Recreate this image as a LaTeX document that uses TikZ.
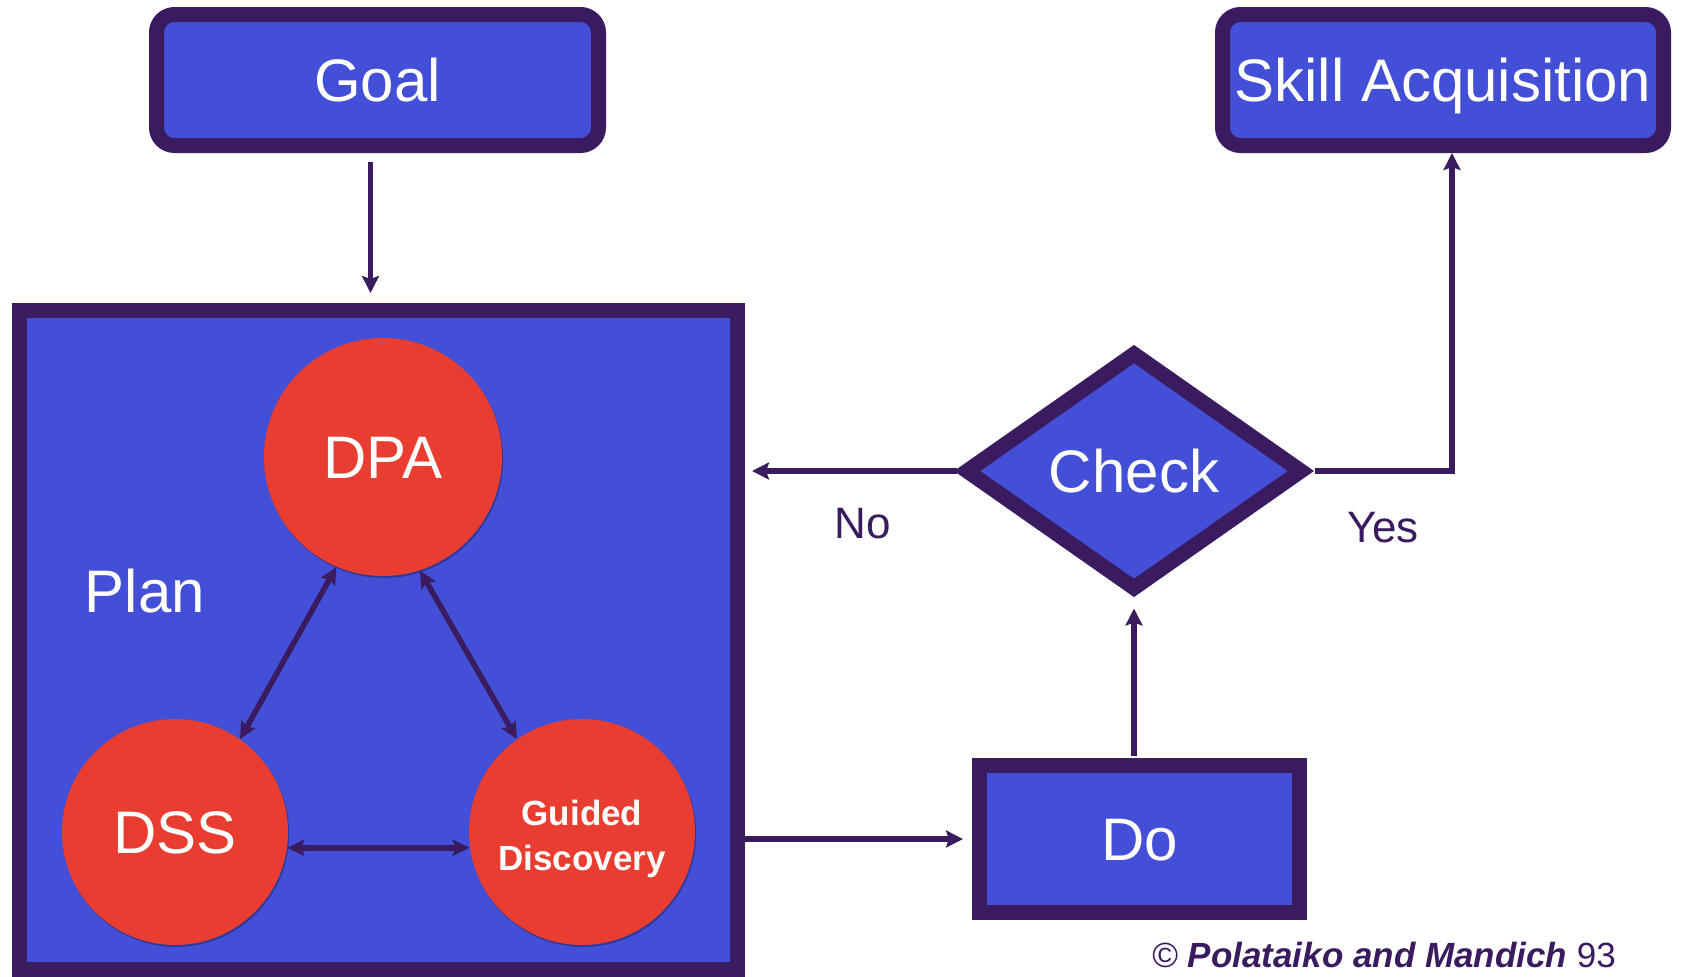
\documentclass[tikz,border=0pt]{standalone}
\usepackage{fontspec}
\setmainfont{Liberation Sans}
\usetikzlibrary{shapes.geometric,arrows.meta,shadows,calc}
\definecolor{navy}{HTML}{3A1B5F}
\definecolor{boxblue}{HTML}{434FD6}
\definecolor{ballred}{HTML}{E83D30}
\begin{document}
\begin{tikzpicture}[x=0.5pt,y=-0.5pt,
  heavy/.style={draw=navy, line width=7.5pt, fill=boxblue, text=white,
    font=\fontsize{30}{36}\selectfont, inner sep=0pt, text height=21.5pt, text depth=0pt},
  roundbox/.style={heavy, rounded corners=9pt},
  ball/.style={circle, fill=ballred, text=white, inner sep=0pt,
    font=\fontsize{30}{36}\selectfont, text height=21.5pt, text depth=0pt,
    drop shadow={shadow xshift=0.6pt, shadow yshift=-1pt, opacity=0.28, fill=black}},
  link/.style={draw=navy, line width=2.75pt},
  tip/.style={-{Stealth[length=8.5pt,width=8.5pt,inset=1.5pt]}},
  twoway/.style={{Stealth[length=8.5pt,width=8pt,inset=1.5pt]}-{Stealth[length=8.5pt,width=8pt,inset=1.5pt]}},
  lbl/.style={text=navy, font=\fontsize{22}{26}\selectfont, inner sep=0pt, text height=15.75pt, text depth=0pt}
]
\useasboundingbox (0,0) rectangle (1683,976);

% top boxes
\node[roundbox, minimum width=221pt, minimum height=65.5pt] (goal) at (377.5,80) {Goal};
\node[roundbox, minimum width=220.5pt, minimum height=65.5pt] (skill) at (1443,80) {Skill Acquisition};

% planning block with its three parts
\node[heavy, minimum width=359pt, minimum height=329.5pt] (plan) at (378.5,640) {};
\node[text=white, font=\fontsize{30}{36}\selectfont, inner sep=0pt, text height=21.5pt, text depth=0pt] (planlbl) at (145,591) {Plan};
\node[ball, minimum size=119pt] (dpa) at (383,457) {DPA};
\node[ball, minimum size=113pt] (dss) at (175,832) {DSS};
\node[ball, minimum size=113pt] (gd) at (582,832) {};
\node[text=white, align=center, inner sep=0pt, font=\bfseries\fontsize{17.5}{22.5}\selectfont] (gdtext) at ($(gd)+(0,7)$) {Guided\\Discovery};

\draw[link,twoway] (dpa.247) -- (dss.55);
\draw[link,twoway] (dpa.288) -- (gd.125);
\draw[link,twoway] (dss.-8) -- (gd.188);

% decision and action
\node[heavy, diamond, minimum width=170pt, minimum height=120pt] (check) at (1134,471) {Check};
\node[heavy, minimum width=160pt, minimum height=73.5pt] (do) at (1139.5,839) {Do};

% connectors
\draw[link,tip,shorten <=4.5pt,shorten >=5pt] ([xshift=-3.5pt]goal.south) -- ([xshift=-3.5pt]goal.south |- plan.north);
\draw[link,tip,shorten >=4.5pt] (plan.east |- do.west) -- (do.west);
\draw[link,tip,shorten <=1pt,shorten >=5pt] (do.north -| check.south) -- (check.south);
\draw[link,tip,shorten >=3.5pt] (check.west) -- (check.west -| plan.east);
\draw[link,tip,shorten <=1.5pt] (check.east) -| ($(skill.south)+(9,0)$);

\node[lbl] (no) at (863,523) {No};
\node[lbl] (yes) at (1383,527) {Yes};

\node[anchor=base west, text=navy, font=\fontsize{17.5}{20}\selectfont, inner sep=0pt] (credit) at (1152,967) {© \textbf{\textit{Polataiko and Mandich}} 93};
\end{tikzpicture}
\end{document}
